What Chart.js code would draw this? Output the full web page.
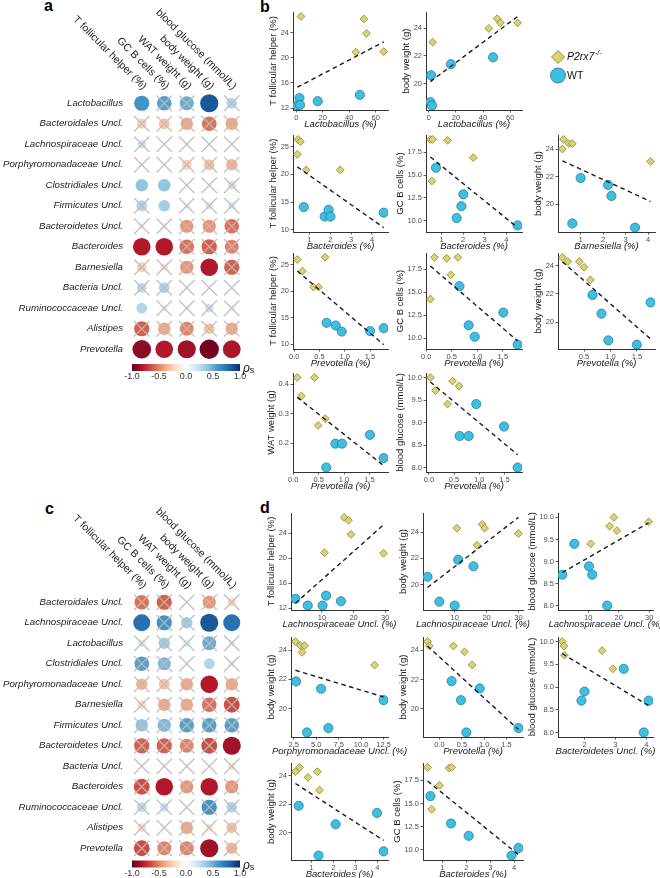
<!DOCTYPE html>
<html>
<head>
<meta charset="utf-8">
<script src="https://cdn.jsdelivr.net/npm/chart.js@4/dist/chart.umd.min.js"></script>
<style>
  body { margin: 0; width: 660px; height: 878px; position: relative; overflow: hidden; background: #fff;
         font-family: "Liberation Sans", Arial, sans-serif; }
  canvas { position: absolute; }
  .tag { position: absolute; font-weight: bold; font-size: 16px; line-height: 16px; color: #000; }
</style>
</head>
<body>
<div class="tag" style="left:44px;top:-2px">a</div>
<div class="tag" style="left:260px;top:-1px">b</div>
<div class="tag" style="left:45px;top:501px">c</div>
<div class="tag" style="left:260px;top:500px">d</div>
<script>
// ---- correlation matrices (Spearman rho, 1 = significant / no cross) ----
const traits = ['T follicular helper (%)', 'GC B cells (%)', 'WAT weight (g)', 'body weight (g)', 'blood glucose (mmol/L)'];

const aRows = ['Lactobacillus', 'Bacteroidales Uncl.', 'Lachnospiraceae Uncl.', 'Porphyromonadaceae Uncl.',
  'Clostridiales Uncl.', 'Firmicutes Uncl.', 'Bacteroidetes Uncl.', 'Bacteroides', 'Barnesiella',
  'Bacteria Uncl.', 'Ruminococcaceae Uncl.', 'Alistipes', 'Prevotella'];
const aRho = [
  [0.6, 0.55, 0.5, 0.85, 0.3],
  [-0.25, -0.3, -0.4, -0.55, -0.4],
  [0.2, 0.05, -0.05, 0.02, 0.05],
  [0.05, -0.05, -0.25, -0.3, -0.35],
  [0.4, 0.4, 0.05, 0.03, 0.2],
  [0.3, 0.35, 0.1, 0.15, 0.15],
  [-0.1, -0.1, -0.45, -0.45, -0.55],
  [-0.8, -0.8, -0.55, -0.6, -0.5],
  [-0.25, -0.15, -0.45, -0.8, -0.6],
  [0.25, 0.3, -0.05, -0.05, 0.02],
  [0.3, 0.1, -0.05, 0.2, 0.1],
  [-0.6, -0.4, -0.5, -0.3, -0.4],
  [-0.9, -0.8, -0.85, -0.97, -0.82]
];
const aSig = [
  [1, 0, 0, 1, 0], [0, 0, 0, 0, 0], [0, 0, 0, 0, 0], [0, 0, 0, 0, 0], [1, 1, 0, 0, 0],
  [0, 1, 0, 0, 0], [0, 0, 0, 0, 0], [1, 1, 0, 0, 0], [0, 0, 0, 1, 0], [0, 0, 0, 0, 0],
  [1, 0, 0, 0, 0], [0, 0, 0, 0, 0], [1, 1, 1, 1, 1]
];

const cRows = ['Bacteroidales Uncl.', 'Lachnospiraceae Uncl.', 'Lactobacillus', 'Clostridiales Uncl.',
  'Porphyromonadaceae Uncl.', 'Barnesiella', 'Firmicutes Uncl.', 'Bacteroidetes Uncl.', 'Bacteria Uncl.',
  'Bacteroides', 'Ruminococcaceae Uncl.', 'Alistipes', 'Prevotella'];
const cRho = [
  [-0.55, -0.6, 0.0, -0.45, -0.2],
  [0.75, 0.6, 0.35, 0.85, 0.75],
  [0.15, 0.35, 0.15, 0.5, 0.1],
  [0.55, 0.45, 0.0, 0.3, 0.1],
  [-0.35, -0.3, -0.4, -0.8, -0.4],
  [-0.2, -0.4, -0.4, -0.55, -0.65],
  [0.4, 0.45, 0.55, 0.55, 0.55],
  [-0.6, -0.6, -0.5, -0.65, -0.85],
  [0.02, -0.05, -0.05, 0.0, -0.15],
  [-0.65, -0.8, -0.45, -0.8, -0.45],
  [0.25, 0.2, 0.0, 0.6, 0.3],
  [-0.2, -0.05, -0.4, -0.15, -0.3],
  [-0.65, -0.5, -0.5, -0.85, -0.35]
];
const cSig = [
  [0, 0, 0, 0, 0], [1, 0, 0, 1, 1], [0, 0, 0, 0, 0], [0, 0, 0, 1, 0], [0, 0, 0, 1, 0],
  [0, 0, 0, 0, 0], [0, 0, 0, 0, 0], [0, 0, 0, 0, 1], [0, 0, 0, 0, 0], [0, 1, 0, 1, 0],
  [0, 0, 0, 0, 0], [0, 0, 0, 0, 0], [0, 0, 0, 1, 0]
];
const cbTicks = ['-1.0', '-0.5', '0.0', '0.5', '1.0'];

// ---- scatter data, [abundance, trait] per mouse ----
const b1KO = [[3.6, 26.6], [51, 26.2], [53, 23.9], [45, 20.9], [66, 21.0]];
const b1WT = [[0.8, 12.4], [2.4, 13.6], [2.9, 12.5], [16.2, 13.1], [48, 14.1]];
const b2KO = [[2.9, 23.0], [50.4, 24.7], [52.8, 24.4], [44.3, 24.0], [65.5, 24.4]];
const b2WT = [[1.2, 18.65], [2.4, 18.4], [1.7, 20.6], [16.3, 21.4], [47.4, 21.9]];
const b3KO = [[0.45, 26.3], [0.57, 25.9], [0.42, 23.6], [0.85, 20.8], [2.48, 20.8]];
const b3WT = [[0.73, 14.1], [1.73, 12.4], [1.92, 13.6], [2.01, 12.4], [4.56, 13.1]];
const b4KO = [[0.48, 18.9], [0.58, 18.9], [1.28, 18.8], [0.55, 14.35], [2.47, 16.9]];
const b4WT = [[0.74, 15.8], [2.01, 12.9], [1.92, 11.6], [1.7, 10.3], [4.53, 9.5]];
const b5KO = [[0.24, 24.7], [0.48, 24.4], [0.63, 24.4], [0.19, 24.0], [4.11, 23.1]];
const b5WT = [[1.0, 21.9], [2.22, 21.4], [2.37, 20.6], [0.63, 18.6], [3.42, 18.3]];
const b6KO = [[0.06, 26.0], [0.61, 26.4], [0.16, 23.8], [0.38, 20.8], [0.48, 20.8]];
const b6WT = [[0.64, 14.05], [0.82, 13.55], [0.94, 12.4], [1.5, 12.5], [1.77, 13.05]];
const b7KO = [[0.16, 18.8], [0.4, 18.7], [0.62, 18.8], [0.48, 16.9], [0.08, 14.25]];
const b7WT = [[0.65, 15.66], [1.51, 12.8], [0.83, 11.4], [0.95, 10.16], [1.79, 9.3]];
const b8KO = [[0.09, 24.6], [0.19, 24.3], [0.41, 24.3], [0.5, 23.9], [0.62, 23.0]];
const b8WT = [[0.66, 21.93], [0.83, 20.6], [0.96, 18.7], [1.5, 18.4], [1.76, 21.4]];
const b9KO = [[0.08, 0.423], [0.42, 0.423], [0.16, 0.36], [0.63, 0.283], [0.49, 0.26]];
const b9WT = [[0.65, 0.117], [0.83, 0.198], [0.96, 0.198], [1.51, 0.228], [1.78, 0.149]];
const b10KO = [[0.03, 10.0], [0.13, 9.71], [0.37, 9.41], [0.47, 9.92], [0.6, 9.81]];
const b10WT = [[0.94, 9.41], [0.61, 8.7], [0.79, 8.7], [1.49, 8.91], [1.76, 8.0]];

const d1KO = [[17.0, 26.56], [18.4, 26.1], [19.2, 23.84], [10.8, 20.9], [29.5, 20.8]];
const d1WT = [[1.6, 13.5], [5.5, 12.4], [10.2, 12.4], [11.3, 14.0], [16.0, 13.1]];
const d2KO = [[10.7, 24.3], [18.6, 24.6], [19.4, 24.3], [17.0, 23.0], [30, 23.9]];
const d2WT = [[1.5, 20.6], [5.2, 18.7], [10.0, 18.4], [11.1, 21.9], [15.9, 21.4]];
const d3KO = [[18.4, 10.0], [17.0, 9.8], [19.4, 9.7], [10.8, 9.4], [29.8, 9.9]];
const d3WT = [[5.45, 9.4], [1.5, 8.7], [10.25, 8.89], [11.3, 8.7], [16.2, 8.0]];
const d4KO = [[2.69, 24.58], [3.24, 24.3], [3.71, 24.3], [3.43, 23.84], [11.5, 22.97]];
const d4WT = [[2.76, 21.85], [5.55, 21.35], [12.5, 20.57], [3.98, 18.36], [6.36, 18.66]];
const d5KO = [[-0.27, 24.6], [-0.23, 24.3], [0.31, 24.3], [0.56, 23.9], [0.73, 23.0]];
const d5WT = [[0.27, 21.9], [0.48, 20.6], [0.9, 21.4], [0.6, 18.4], [1.77, 18.7]];
const d6KO = [[1.28, 10.0], [1.33, 9.9], [1.35, 9.7], [2.57, 9.8], [2.92, 9.4]];
const d6WT = [[3.27, 9.4], [2.0, 8.9], [1.9, 8.7], [4.08, 8.7], [3.92, 8.0]];
const d7KO = [[0.28, 24.3], [0.47, 24.6], [0.85, 23.9], [1.28, 24.3], [1.37, 23.0]];
const d7WT = [[0.43, 21.9], [2.11, 20.6], [3.99, 21.4], [1.33, 18.4], [4.29, 18.7]];
const d8KO = [[0.38, 18.9], [0.88, 16.96], [0.55, 14.36], [1.28, 18.83], [1.39, 18.9]];
const d8WT = [[0.5, 15.79], [1.36, 12.83], [2.1, 11.5], [3.89, 9.36], [4.18, 10.18]];

// tick labels
const tkLacto = ['0', '20', '40', '60'];
const tkBacteroides = ['1', '2', '3', '4'];
const tkPrev = ['0.0', '0.5', '1.0', '1.5'];
const tkLachno = ['10', '20', '30'];
const tkPorph = ['2.5', '5.0', '7.5', '10.0', '12.5'];
const tkBdtes = ['2', '3', '4'];
const tkTfhA = ['12', '16', '20', '24'];
const tkTfhB = ['10', '15', '20', '25'];
const tkBW = ['20', '22', '24'];
const tkGCB = ['10.0', '12.5', '15.0', '17.5'];
const tkWAT = ['0.2', '0.3', '0.4'];
const tkBG = ['8.0', '8.5', '9.0', '9.5', '10.0'];

const FAM = '"Liberation Sans", Arial, sans-serif';
const RDBU = ['#67001F', '#B2182B', '#D6604D', '#F4A582', '#FDDBC7', '#FFFFFF',
  '#D1E5F0', '#92C5DE', '#4393C3', '#2166AC', '#053061'];
const KO_FILL = '#DDD36E', KO_EDGE = '#7b7333';
const WT_FILL = '#3DBFE1', WT_EDGE = '#22718e';
const TICK_PX = 7.5;
const PAD_L = 44, PAD_T = 6, PAD_R = 24, PAD_B = 20;

Chart.defaults.font.family = FAM;
Chart.defaults.animation = false;
Chart.defaults.events = [];
Chart.defaults.plugins.legend.display = false;
Chart.defaults.plugins.tooltip.enabled = false;

function place(left, top, w, h) {
  const c = document.createElement('canvas');
  c.width = w; c.height = h;
  c.style.left = left + 'px'; c.style.top = top + 'px';
  c.style.width = w + 'px'; c.style.height = h + 'px';
  document.body.appendChild(c);
  return c;
}

function hex(c) { return [1, 3, 5].map(i => parseInt(c.slice(i, i + 2), 16)); }
function rdbu(v) {
  const t = (v + 1) / 2 * 10;
  const i = Math.min(9, Math.max(0, Math.floor(t)));
  const f = t - i, p = hex(RDBU[i]), q = hex(RDBU[i + 1]);
  return 'rgb(' + p.map((c, k) => Math.round(c + (q[k] - c) * f)).join(',') + ')';
}

function rowHeight(chart) {
  const s = chart.scales.y;
  return Math.abs(s.getPixelForValue(1) - s.getPixelForValue(0));
}

const corrDecor = {
  id: 'corrDecor',
  afterDraw(chart, args, o) {
    const {ctx, chartArea: a, scales: {x}} = chart;
    ctx.save();
    ctx.fillStyle = '#222';
    ctx.font = '10.5px ' + FAM;
    ctx.textAlign = 'right';
    ctx.textBaseline = 'middle';
    traits.forEach((t, i) => {
      ctx.save();
      ctx.translate(x.getPixelForValue(i) + 3, a.top - 5);
      ctx.rotate(Math.PI / 4);
      ctx.fillText(t, 0, 0);
      ctx.restore();
    });
    // colour key
    const x0 = a.left + 1.5, x1 = a.right - 3, y0 = a.bottom + o.gap, y1 = y0 + 7;
    const g = ctx.createLinearGradient(x0, 0, x1, 0);
    RDBU.forEach((c, i) => g.addColorStop(i / 10, c));
    ctx.fillStyle = g;
    ctx.fillRect(x0, y0, x1 - x0, y1 - y0);
    ctx.fillStyle = '#333';
    ctx.font = '9px ' + FAM;
    ctx.textAlign = 'center';
    ctx.textBaseline = 'top';
    cbTicks.forEach(t => ctx.fillText(t, x0 + (Number(t) + 1) / 2 * (x1 - x0), y1 + 1.5));
    ctx.textAlign = 'left';
    ctx.textBaseline = 'alphabetic';
    ctx.fillStyle = '#111';
    ctx.font = 'italic 12px ' + FAM;
    ctx.fillText('ρ', x1 + 3, y1 + 1);
    const rw = ctx.measureText('ρ').width;
    ctx.font = '9px ' + FAM;
    ctx.fillText('s', x1 + 3 + rw, y1 + 2);
    ctx.restore();
  }
};

function corrPanel(top, h, padTop, gap, rows, rho, sig) {
  const cv = place(0, top, 262, h);
  const cells = [], crosses = [];
  rho.forEach((r, i) => r.forEach((v, j) => {
    cells.push({x: j, y: i, v: v});
    if (!sig[i][j]) crosses.push({x: j, y: i});
  }));
  new Chart(cv, {
    type: 'scatter',
    data: {
      datasets: [
        {data: crosses, pointStyle: 'crossRot', pointRadius: c => rowHeight(c.chart) * 0.53,
         pointBorderColor: 'rgba(186,186,186,0.9)', pointBorderWidth: 1.3},
        {data: cells, pointStyle: 'circle', pointBorderWidth: 0,
         pointRadius: c => 0.48 * rowHeight(c.chart) * Math.sqrt(Math.abs(c.raw.v)),
         pointBackgroundColor: c => rdbu(c.raw.v)}
      ]
    },
    options: {
      responsive: false,
      devicePixelRatio: 1,
      layout: {padding: {top: padTop, bottom: h - padTop - 13 * 20.5, right: 19, left: 0}},
      scales: {
        x: {type: 'linear', display: false, min: -0.5, max: 4.5},
        y: {
          type: 'linear', reverse: true, min: -0.5, max: 12.5,
          afterBuildTicks: s => { s.ticks = rows.map((_, i) => ({value: i})); },
          afterFit: s => { s.width = 130.5; s.paddingTop = 0; s.paddingBottom = 0; },
          ticks: {autoSkip: false, padding: 7.5, color: '#222', font: {size: 9.7, style: 'italic'},
                  callback: (v, i) => rows[i]},
          grid: {display: false, drawTicks: false},
          border: {display: false}
        }
      },
      plugins: {corrDecor: {gap: gap}}
    },
    plugins: [corrDecor]
  });
}

function fitLine(pts) {
  const n = pts.length;
  const mx = pts.reduce((s, p) => s + p[0], 0) / n;
  const my = pts.reduce((s, p) => s + p[1], 0) / n;
  let sxy = 0, sxx = 0;
  pts.forEach(p => { sxy += (p[0] - mx) * (p[1] - my); sxx += (p[0] - mx) ** 2; });
  const b = sxy / sxx;
  return {a: my - b * mx, b: b};
}

function padRange(vals) {
  const lo = Math.min(...vals), hi = Math.max(...vals), e = (hi - lo) * 0.05;
  return [lo - e, hi + e];
}

const axisTitles = {
  id: 'axisTitles',
  afterDraw(chart, args, o) {
    const {ctx, chartArea: a} = chart;
    ctx.save();
    ctx.fillStyle = '#1a1a1a';
    ctx.textAlign = 'center';
    ctx.textBaseline = 'middle';
    ctx.font = 'italic 9.5px ' + FAM;
    ctx.fillText(o.x, (a.left + a.right) / 2, a.bottom + 14.5);
    ctx.font = TICK_PX + 'px ' + FAM;
    const tw = Math.max(...chart.scales.y.ticks.map(t => ctx.measureText(t.label).width));
    ctx.font = '9.5px ' + FAM;
    ctx.translate(a.left - tw - 11, (a.top + a.bottom) / 2);
    ctx.rotate(-Math.PI / 2);
    ctx.fillText(o.y, 0, 0);
    ctx.restore();
  }
};

function axis(range, labels, horizontal) {
  return {
    type: 'linear', min: range[0], max: range[1],
    afterBuildTicks: s => {
      s.ticks = labels.map(Number).filter(v => v >= range[0] && v <= range[1]).map(v => ({value: v}));
    },
    afterFit: s => {
      if (horizontal) { s.height = PAD_B; s.paddingLeft = 0; s.paddingRight = 0; }
      else { s.width = PAD_L; s.paddingTop = 0; s.paddingBottom = 0; }
    },
    ticks: {autoSkip: false, maxRotation: 0, minRotation: 0, padding: horizontal ? 0.5 : 1.5,
            color: '#4d4d4d', font: {size: TICK_PX}, callback: v => labels.find(t => Number(t) === v)},
    grid: {drawOnChartArea: false, tickLength: 2.5, color: '#333', lineWidth: 0.8},
    border: {color: '#333', width: 1}
  };
}

function scatterPanel(p) {
  const [xa, yt, xr, yb] = p.box;
  const cv = place(xa - PAD_L, yt - PAD_T, xr - xa + PAD_L + PAD_R, yb - yt + PAD_T + PAD_B);
  const pts = p.ko.concat(p.wt);
  const f = fitLine(pts);
  const xs = pts.map(d => d[0]);
  const lo = Math.min(...xs), hi = Math.max(...xs);
  const trend = [{x: lo, y: f.a + f.b * lo}, {x: hi, y: f.a + f.b * hi}];
  const xRange = padRange(xs);
  const yRange = padRange(pts.map(d => d[1]).concat(trend.map(d => d.y)));
  new Chart(cv, {
    type: 'scatter',
    data: {
      datasets: [
        {type: 'line', data: trend, borderColor: '#1a1a1a', borderWidth: 1.4, borderDash: [4.5, 3.5],
         pointRadius: 0, fill: false},
        {data: p.ko.map(d => ({x: d[0], y: d[1]})), pointStyle: 'rectRot', pointRadius: 3.9,
         pointBackgroundColor: KO_FILL, pointBorderColor: KO_EDGE, pointBorderWidth: 0.7},
        {data: p.wt.map(d => ({x: d[0], y: d[1]})), pointStyle: 'circle', pointRadius: 4.6,
         pointBackgroundColor: WT_FILL, pointBorderColor: WT_EDGE, pointBorderWidth: 0.7}
      ]
    },
    options: {
      responsive: false,
      devicePixelRatio: 1,
      layout: {padding: {left: 0, top: PAD_T, right: PAD_R, bottom: 0}},
      scales: {x: axis(xRange, p.xt, true), y: axis(yRange, p.yt, false)},
      plugins: {axisTitles: {x: p.xl, y: p.yl}}
    },
    plugins: [axisTitles]
  });
}

const groupKey = {
  id: 'groupKey',
  afterDraw(chart) {
    const ctx = chart.ctx;
    ctx.save();
    ctx.lineWidth = 0.8;
    ctx.fillStyle = KO_FILL; ctx.strokeStyle = KO_EDGE;
    ctx.beginPath();
    ctx.moveTo(18, 5.5); ctx.lineTo(24.5, 12); ctx.lineTo(18, 18.5); ctx.lineTo(11.5, 12);
    ctx.closePath(); ctx.fill(); ctx.stroke();
    ctx.fillStyle = WT_FILL; ctx.strokeStyle = WT_EDGE;
    ctx.beginPath(); ctx.arc(18, 30.5, 7.5, 0, Math.PI * 2); ctx.fill(); ctx.stroke();
    ctx.fillStyle = '#111';
    ctx.textBaseline = 'middle';
    ctx.font = 'italic 10.5px ' + FAM;
    ctx.fillText('P2rx7', 27, 12.5);
    const w = ctx.measureText('P2rx7').width;
    ctx.font = 'italic 7px ' + FAM;
    ctx.fillText('-/-', 27 + w + 0.5, 8.5);
    ctx.font = '10.5px ' + FAM;
    ctx.fillText('WT', 27, 31);
    ctx.restore();
  }
};

const yT = 'T follicular helper (%)', yBW = 'body weight (g)', yGC = 'GC B cells (%)',
      yWAT = 'WAT weight (g)', yBG = 'blood glucose (mmol/L)';
const panels = [
  {ko: b1KO, wt: b1WT, xt: tkLacto, yt: tkTfhA, xl: 'Lactobacillus (%)', yl: yT, box: [293, 12, 388, 110]},
  {ko: b2KO, wt: b2WT, xt: tkLacto, yt: tkBW, xl: 'Lactobacillus (%)', yl: yBW, box: [426, 12, 522, 110]},
  {ko: b3KO, wt: b3WT, xt: tkBacteroides, yt: tkTfhB, xl: 'Bacteroides (%)', yl: yT, box: [293, 135, 388, 232]},
  {ko: b4KO, wt: b4WT, xt: tkBacteroides, yt: tkGCB, xl: 'Bacteroides (%)', yl: yGC, box: [426, 135, 522, 232]},
  {ko: b5KO, wt: b5WT, xt: tkBacteroides, yt: tkBW, xl: 'Barnesiella (%)', yl: yBW, box: [558, 135, 655, 232]},
  {ko: b6KO, wt: b6WT, xt: tkPrev, yt: tkTfhB, xl: 'Prevotella (%)', yl: yT, box: [293, 253, 388, 349]},
  {ko: b7KO, wt: b7WT, xt: tkPrev, yt: tkGCB, xl: 'Prevotella (%)', yl: yGC, box: [426, 253, 522, 349]},
  {ko: b8KO, wt: b8WT, xt: tkPrev, yt: tkBW, xl: 'Prevotella (%)', yl: yBW, box: [558, 253, 655, 349]},
  {ko: b9KO, wt: b9WT, xt: tkPrev, yt: tkWAT, xl: 'Prevotella (%)', yl: yWAT, box: [293, 373, 388, 472]},
  {ko: b10KO, wt: b10WT, xt: tkPrev, yt: tkBG, xl: 'Prevotella (%)', yl: yBG, box: [426, 373, 522, 472]},
  {ko: d1KO, wt: d1WT, xt: tkLachno, yt: tkTfhA, xl: 'Lachnospiraceae Uncl. (%)', yl: yT, box: [291, 513, 388, 610]},
  {ko: d2KO, wt: d2WT, xt: tkLachno, yt: tkBW, xl: 'Lachnospiraceae Uncl. (%)', yl: yBW, box: [423, 513, 523, 610]},
  {ko: d3KO, wt: d3WT, xt: tkLachno, yt: tkBG, xl: 'Lachnospiraceae Uncl. (%)', yl: yBG, box: [558, 513, 653, 610]},
  {ko: d4KO, wt: d4WT, xt: tkPorph, yt: tkBW, xl: 'Porphyromonadaceae Uncl. (%)', yl: yBW, box: [291, 637, 388, 737]},
  {ko: d5KO, wt: d5WT, xt: tkPrev, yt: tkBW, xl: 'Prevotella (%)', yl: yBW, box: [423, 637, 523, 737]},
  {ko: d6KO, wt: d6WT, xt: tkBdtes, yt: tkBG, xl: 'Bacteroidetes Uncl. (%)', yl: yBG, box: [558, 637, 653, 737]},
  {ko: d7KO, wt: d7WT, xt: tkBacteroides, yt: tkBW, xl: 'Bacteroides (%)', yl: yBW, box: [291, 763, 388, 860]},
  {ko: d8KO, wt: d8WT, xt: tkBacteroides, yt: tkGCB, xl: 'Bacteroides (%)', yl: yGC, box: [423, 763, 523, 860]}
];

corrPanel(0, 395, 93, 4.5, aRows, aRho, aSig);
corrPanel(500, 378, 92, 2, cRows, cRho, cSig);
panels.forEach(scatterPanel);

new Chart(place(540, 45, 100, 44), {
  type: 'scatter',
  data: {datasets: []},
  options: {responsive: false, devicePixelRatio: 1, scales: {x: {display: false}, y: {display: false}}},
  plugins: [groupKey]
});
</script>
</body>
</html>
